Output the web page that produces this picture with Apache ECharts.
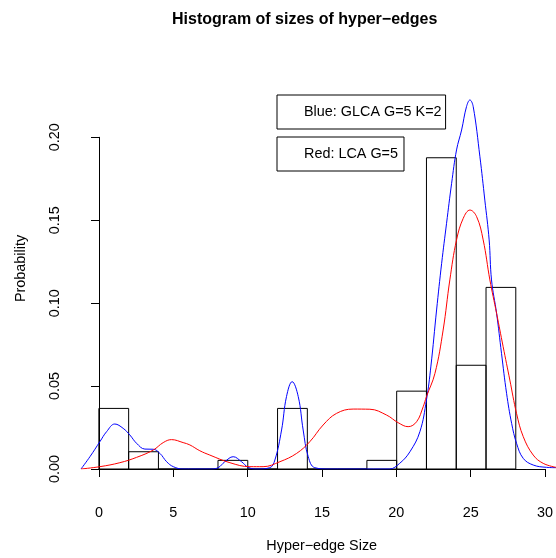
<!DOCTYPE html>
<html>
<head>
<meta charset="utf-8">
<script src="https://cdn.jsdelivr.net/npm/echarts@6/dist/echarts.min.js"></script>
<style>
  html, body { margin: 0; padding: 0; background: #fff; }
  #chart { width: 556px; height: 558px; }
</style>
</head>
<body>
<div id="chart"></div>
<script>
// histogram bins (width 2) and densities
var binStart = [0, 2, 4, 6, 8, 10, 12, 14, 16, 18, 20, 22, 24, 26];
var binDensity = [0.0365, 0.0104, 0, 0, 0.0052, 0, 0.0365, 0, 0, 0.0052, 0.0469, 0.1875, 0.0625, 0.1094];
var binWidth = 2;

// blue density curve (GLCA G=5 K=2)
var blueX = [-1.2, -0.6, 0.07, 0.52, 1.07, 1.63, 2.08, 2.53, 3.09, 3.65, 4.1, 4.55, 5.0, 5.66, 7.5,
  8.01, 8.46, 9.02, 9.58, 10.03, 10.6, 11.48, 11.82, 12.27, 12.6, 12.98, 13.39, 13.72, 14.06, 14.5,
  15.5, 19.5, 20.2, 20.89, 21.56, 22.0, 22.3, 22.68, 23.02, 23.35, 23.69, 24.02, 24.36, 24.69, 24.92,
  25.14, 25.59, 25.92, 26.21, 26.37, 26.71, 27.04, 27.38, 27.72, 28.05, 28.5, 29.17, 30.07, 30.7];
var blueY = [0, 0.0074, 0.0165, 0.0225, 0.0271, 0.0245, 0.0205, 0.0155, 0.012, 0.0119, 0.0094, 0.0044, 0.0014, 0, 0,
  0.0008, 0.0044, 0.0074, 0.0044, 0.001, 0, 0.0008, 0.0054, 0.0235, 0.0436, 0.0526, 0.0436, 0.0235, 0.0074, 0.0008,
  0, 0, 0.0034, 0.0104, 0.0225, 0.0416, 0.062, 0.0958, 0.1239, 0.148, 0.1721, 0.1922, 0.2042, 0.2183, 0.2223,
  0.2183, 0.1881, 0.162, 0.138, 0.1139, 0.0938, 0.0697, 0.0456, 0.0275, 0.0155, 0.0064, 0.0024, 0.001, 0.0008];

// red density curve (LCA G=5)
var redX = [-1.2, 0.07, 1.41, 2.53, 3.65, 4.32, 4.88, 5.66, 6.11, 6.78, 7.45, 8.8, 10.14, 11.03, 12.16,
  13.28, 14.17, 15.06, 15.96, 17.08, 18.2, 19.32, 20.1, 20.77, 21.34, 21.78, 22.0, 22.57, 23.12, 23.57,
  24.02, 24.47, 24.92, 25.37, 25.81, 26.26, 26.71, 27.15, 27.6, 28.05, 28.5, 29.17, 29.84, 30.7];
var redY = [0, 0.0014, 0.0038, 0.007, 0.0114, 0.0159, 0.0177, 0.0159, 0.0145, 0.011, 0.0084, 0.0038, 0.0014, 0.0014, 0.0044,
  0.0094, 0.0165, 0.0265, 0.0335, 0.0361, 0.036, 0.0325, 0.0279, 0.0255, 0.0285, 0.0375, 0.0436, 0.0576, 0.0837, 0.1139,
  0.138, 0.151, 0.156, 0.152, 0.138, 0.1139, 0.0938, 0.0737, 0.0536, 0.0335, 0.0195, 0.0084, 0.0034, 0.001];

var xTicks = [0, 30, 5];       // min, max, step
var yTicks = [0, 0.2, 0.05];

var blueName = "Blue: GLCA G=5 K=2";
var redName = "Red: LCA G=5";
var font = "'Liberation Sans', Arial, Helvetica, sans-serif";
var fs = 14.4; // base text size

function pairs(xs, ys) {
  var out = [];
  for (var i = 0; i < xs.length; i++) out.push([xs[i], ys[i]]);
  return out;
}

var histData = [];
for (var i = 0; i < binStart.length; i++) {
  histData.push([binStart[i], binStart[i] + binWidth, binDensity[i]]);
}

var legendBase = {
  orient: "horizontal",
  selectedMode: false,
  borderColor: "#000",
  borderWidth: 1,
  itemWidth: 18,
  itemHeight: 12,
  icon: "rect",
  itemStyle: { color: "transparent", borderWidth: 0 },
  textStyle: { fontSize: fs, color: "#000", fontFamily: font },
};

var myChart = echarts.init(document.getElementById("chart"));
var option = {
  animation: false,
  backgroundColor: "#fff",
  textStyle: { fontFamily: font },
  title: {
    text: "Histogram of sizes of hyper\u2212edges",
    left: 172,
    top: 12,
    padding: 0,
    textStyle: { fontSize: 16, fontWeight: "bold", color: "#000", fontFamily: font },
  },
  legend: [
    Object.assign({}, legendBase, {
      data: [blueName],
      left: 277,
      top: 95,
      padding: [10, 4, 10, 4],
    }),
    Object.assign({}, legendBase, {
      data: [redName],
      left: 277,
      top: 137,
      padding: [10, 6, 10, 4],
    }),
  ],
  grid: [
    // data area
    { left: 81, right: 0, top: 70.6, bottom: 89 },
    // axes drawn like R (only over tick range)
    { left: 99, right: 10.4, top: 137.3, bottom: 89 },
  ],
  xAxis: [
    { gridIndex: 0, type: "value", min: -1.2, max: 30.7, show: false },
    {
      gridIndex: 1,
      type: "value",
      min: xTicks[0],
      max: xTicks[1],
      interval: xTicks[2],
      offset: 16,
      axisLine: { show: true, lineStyle: { color: "#000", width: 1 } },
      axisTick: { show: true, length: 8, lineStyle: { color: "#000" } },
      axisLabel: { fontSize: fs, color: "#000", margin: 21, fontFamily: font },
      splitLine: { show: false },
    },
  ],
  yAxis: [
    { gridIndex: 0, type: "value", min: 0, max: 0.24, show: false },
    {
      gridIndex: 1,
      type: "value",
      min: yTicks[0],
      max: yTicks[1],
      interval: yTicks[2],
      offset: 18,
      axisLine: { show: true, lineStyle: { color: "#000", width: 1 } },
      axisTick: { show: true, length: 8, lineStyle: { color: "#000" } },
      axisLabel: {
        fontSize: fs,
        color: "#000",
        rotate: 90,
        margin: 19,
        fontFamily: font,
        formatter: function (v) { return v.toFixed(2); },
      },
      splitLine: { show: false },
    },
  ],
  graphic: [
    {
      type: "text",
      x: 21,
      y: 268.5,
      rotation: Math.PI / 2,
      style: { text: "Probability", fontSize: fs, fontFamily: font, fill: "#000", align: "center", verticalAlign: "middle" },
    },
    {
      type: "text",
      x: 321.7,
      y: 546.5,
      style: { text: "Hyper\u2212edge Size", fontSize: fs, fontFamily: font, fill: "#000", align: "center", verticalAlign: "middle" },
    },
  ],
  series: [
    {
      type: "custom",
      name: "hist",
      xAxisIndex: 0,
      yAxisIndex: 0,
      data: histData,
      renderItem: function (params, api) {
        var p0 = api.coord([api.value(0), 0]);
        var p1 = api.coord([api.value(1), api.value(2)]);
        return {
          type: "rect",
          shape: { x: p0[0], y: p1[1], width: p1[0] - p0[0], height: p0[1] - p1[1] },
          style: { fill: "none", stroke: "#000", lineWidth: 1 },
        };
      },
    },
    {
      type: "line",
      name: blueName,
      xAxisIndex: 0,
      yAxisIndex: 0,
      data: pairs(blueX, blueY),
      showSymbol: false,
      symbol: "none",
      smooth: 0.4,
      lineStyle: { color: "#0000ff", width: 1 },
      itemStyle: { color: "#0000ff" },
    },
    {
      type: "line",
      name: redName,
      xAxisIndex: 0,
      yAxisIndex: 0,
      data: pairs(redX, redY),
      showSymbol: false,
      symbol: "none",
      smooth: 0.4,
      lineStyle: { color: "#ff0000", width: 1 },
      itemStyle: { color: "#ff0000" },
    },
  ],
};
myChart.setOption(option);
</script>
</body>
</html>
